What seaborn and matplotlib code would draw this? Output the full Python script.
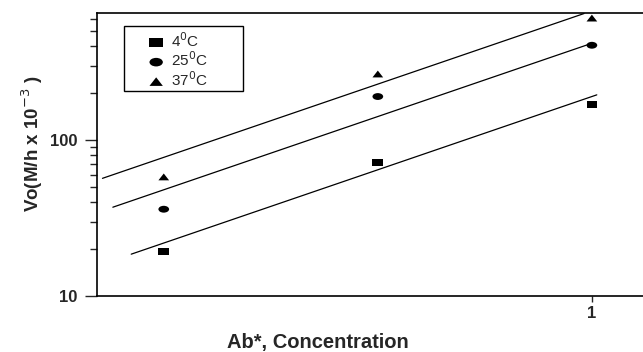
import matplotlib
matplotlib.use("Agg")
import matplotlib.pyplot as plt
from matplotlib.markers import MarkerStyle
from matplotlib.patches import Rectangle
from matplotlib.transforms import Affine2D
from matplotlib.ticker import FixedLocator, NullFormatter, NullLocator
import seaborn as sns
import numpy as np
import pandas as pd

# -----------------------------
# 0. Data
# -----------------------------
conc = [0.25, 0.5, 1.0]
vo_4C = [19.4, 72, 168]
vo_25C = [36, 190, 405]
vo_37C = [58, 265, 605]
labels = ["4$^0$C", "25$^0$C", "37$^0$C"]

# fitted lines: common slope (log-log), value at Ab* = 1, x-extent
fit_slope = 1.56
fit_at_1 = [190, 417, 673]
fit_xmin = [0.225, 0.212, 0.205]
fit_xmax = [1.016, 0.987, 0.975]

df = pd.DataFrame({
    "conc": conc * 3,
    "vo": vo_4C + vo_25C + vo_37C,
    "temp": [labels[0]] * 3 + [labels[1]] * 3 + [labels[2]] * 3,
})

# -----------------------------
# 1. Figure
# -----------------------------
sns.set_style("ticks")
plt.rcParams["font.family"] = ["Liberation Sans", "DejaVu Sans"]

W, H = 643, 352
L, B, T = 97, 296, 13
fig = plt.figure(figsize=(W / 100, H / 100), dpi=100)
ax = fig.add_axes([L / W, (H - B) / H, 1 - L / W, (B - T) / H])
aw, ah = W - L, B - T

squash = Affine2D().scale(1.25, 0.8)
marks = [MarkerStyle("s", transform=squash),
         MarkerStyle("o", transform=squash),
         MarkerStyle("^", transform=squash)]

for i, lab in enumerate(labels):
    sub = df[df["temp"] == lab]
    sns.scatterplot(data=sub, x="conc", y="vo", ax=ax, marker=marks[i],
                    color="black", s=38, edgecolor="none", label=lab, zorder=3)
    xs = np.array([fit_xmin[i], fit_xmax[i]])
    ys = fit_at_1[i] * xs ** fit_slope
    ax.plot(xs, ys, color="black", lw=0.9, zorder=2)

ax.set_xscale("log")
ax.set_yscale("log")
ax.set_xlim(0.2014, 1.18)
ax.set_ylim(10, 652)

ax.xaxis.set_major_locator(FixedLocator([1]))
ax.xaxis.set_minor_locator(NullLocator())
ax.set_xticklabels(["1"])
ax.yaxis.set_major_locator(FixedLocator([10, 100]))
ax.set_yticklabels(["10", "100"])
ax.yaxis.set_minor_locator(FixedLocator([20, 30, 40, 50, 60, 70, 80, 90,
                                         200, 300, 400, 500, 600]))
ax.yaxis.set_minor_formatter(NullFormatter())

ax.tick_params(axis="y", which="major", length=9, width=1.0, labelsize=12, pad=5)
ax.tick_params(axis="y", which="minor", length=5, width=1.0)
ax.tick_params(axis="x", which="major", length=4, width=1.0, labelsize=12, pad=3)
for t in ax.get_xticklabels() + ax.get_yticklabels():
    t.set_fontweight("bold")

for side in ["left", "top", "bottom"]:
    ax.spines[side].set_color("black")
    ax.spines[side].set_linewidth(1.2)
ax.spines["right"].set_visible(False)

ax.set_xlabel("Ab*, Concentration", fontsize=14.5, fontweight="bold")
ax.set_ylabel("Vo(M/h x 10$^{-3}$ )", fontsize=13.5, fontweight="bold")
ax.xaxis.set_label_coords((318 - L) / aw, -(333 - B) / ah)
ax.yaxis.set_label_coords(-(L - 45) / aw, (B - 144) / ah)

# legend: entries without frame, box drawn separately
leg = ax.legend(loc="upper left", bbox_to_anchor=((147 - L) / aw, 1 - (31 - T) / ah),
                frameon=False, fontsize=11, handlelength=1.2, handletextpad=0.4,
                labelspacing=0.05, borderpad=0, borderaxespad=0, markerscale=1.25)
ax.add_patch(Rectangle(((124 - L) / aw, 1 - (91 - T) / ah), 119 / aw, 65 / ah,
                       transform=ax.transAxes, fill=False, edgecolor="black",
                       lw=1.0, zorder=4))

fig.savefig("out.png", dpi=100)
